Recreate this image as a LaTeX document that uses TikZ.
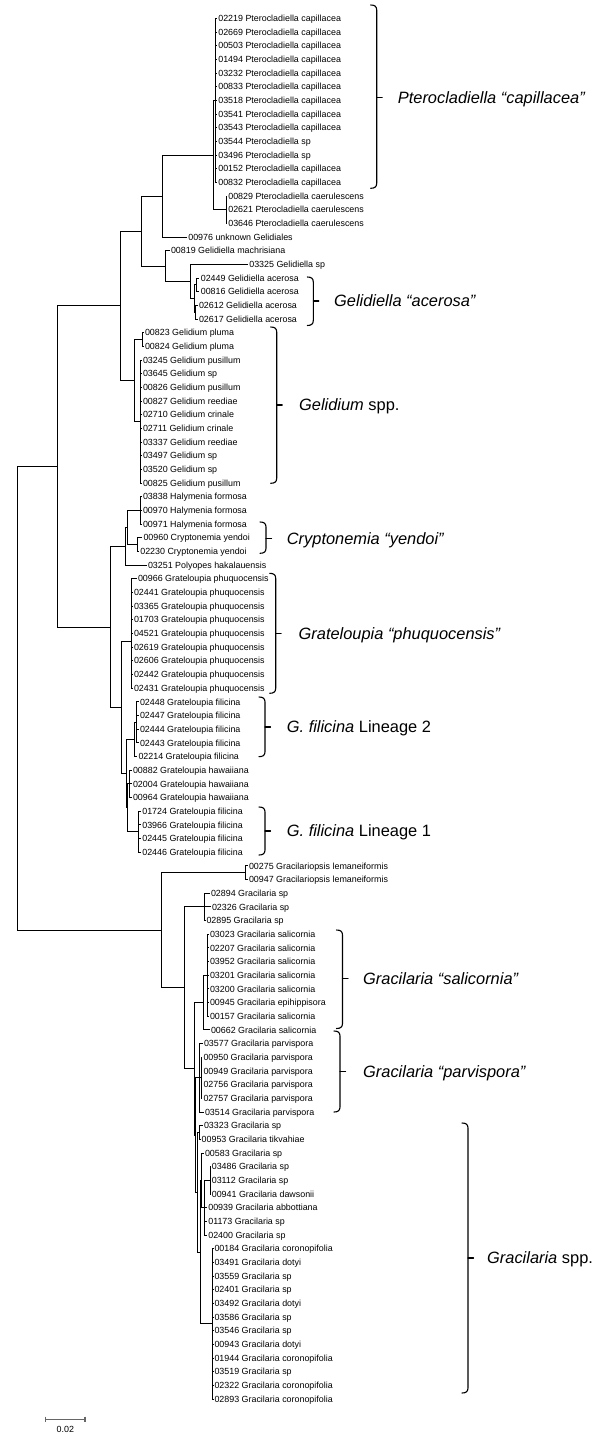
\documentclass[tikz,border=0pt]{standalone}
\usepackage{fontspec}
\setmainfont{Liberation Sans}
\newcommand{\myclbrace}[4]{%
  \draw[bracestyle] ({#1-6},#2) .. controls ({#1-2},#2) and (#1,{#2+1.5}) .. (#1,{#2+5}) -- (#1,{#3-5}) .. controls (#1,{#3-1.5}) and ({#1-2},#3) .. ({#1-6},#3);
  \draw[bracestyle] (#1,#4) -- ({#1+5.5},#4);}
\newcommand{\lf}[4]{\node[leaf] (#1) at (#2,{18.3+(#3-1)*13.67}) {#4};}
\begin{document}
\begin{tikzpicture}[x=1pt,y=-1pt,
  tb/.style={line width=0.8pt, black},
  leaf/.style={anchor=west, inner xsep=1.5pt, inner ysep=0pt, outer sep=0pt, font=\fontsize{8.9}{10}\selectfont, text height=6.4pt, text depth=0pt},
  clade/.style={anchor=west, inner sep=0pt, font=\fontsize{16.4}{18}\selectfont, text height=11.8pt, text depth=0pt},
  bracestyle/.style={line width=1.1pt, black, line cap=round, line join=round},
  scalebar/.style={line width=1.2pt, black!60}]
\useasboundingbox (0,0) rectangle (600,1439);
% ---------------- leaves ----------------
\lf{L1}{216.8}{1}{02219 Pterocladiella capillacea}
\lf{L2}{216.8}{2}{02669 Pterocladiella capillacea}
\lf{L3}{216.8}{3}{00503 Pterocladiella capillacea}
\lf{L4}{216.8}{4}{01494 Pterocladiella capillacea}
\lf{L5}{216.8}{5}{03232 Pterocladiella capillacea}
\lf{L6}{216.8}{6}{00833 Pterocladiella capillacea}
\lf{L7}{216.8}{7}{03518 Pterocladiella capillacea}
\lf{L8}{216.8}{8}{03541 Pterocladiella capillacea}
\lf{L9}{216.8}{9}{03543 Pterocladiella capillacea}
\lf{L10}{216.8}{10}{03544 Pterocladiella sp}
\lf{L11}{216.8}{11}{03496 Pterocladiella sp}
\lf{L12}{216.8}{12}{00152 Pterocladiella capillacea}
\lf{L13}{216.8}{13}{00832 Pterocladiella capillacea}
\lf{L14}{226.8}{14}{00829 Pterocladiella caerulescens}
\lf{L15}{226.8}{15}{02621 Pterocladiella caerulescens}
\lf{L16}{226.8}{16}{03646 Pterocladiella caerulescens}
\lf{L17}{186.8}{17}{00976 unknown Gelidiales}
\lf{L18}{169.5}{18}{00819 Gelidiella machrisiana}
\lf{L19}{247.8}{19}{03325 Gelidiella sp}
\lf{L20}{199.3}{20}{02449 Gelidiella acerosa}
\lf{L21}{199.3}{21}{00816 Gelidiella acerosa}
\lf{L22}{197.5}{22}{02612 Gelidiella acerosa}
\lf{L23}{197.5}{23}{02617 Gelidiella acerosa}
\lf{L24}{143.5}{24}{00823 Gelidium pluma}
\lf{L25}{143.5}{25}{00824 Gelidium pluma}
\lf{L26}{141.5}{26}{03245 Gelidium pusillum}
\lf{L27}{141.5}{27}{03645 Gelidium sp}
\lf{L28}{141.5}{28}{00826 Gelidium pusillum}
\lf{L29}{141.5}{29}{00827 Gelidium reediae}
\lf{L30}{141.5}{30}{02710 Gelidium crinale}
\lf{L31}{141.5}{31}{02711 Gelidium crinale}
\lf{L32}{141.5}{32}{03337 Gelidium reediae}
\lf{L33}{141.5}{33}{03497 Gelidium sp}
\lf{L34}{141.5}{34}{03520 Gelidium sp}
\lf{L35}{141.5}{35}{00825 Gelidium pusillum}
\lf{L36}{141.5}{36}{03838 Halymenia formosa}
\lf{L37}{141.5}{37}{00970 Halymenia formosa}
\lf{L38}{141.5}{38}{00971 Halymenia formosa}
\lf{L39}{142.0}{39}{00960 Cryptonemia yendoi}
\lf{L40}{138.8}{40}{02230 Cryptonemia yendoi}
\lf{L41}{146.5}{41}{03251 Polyopes hakalauensis}
\lf{L42}{136.5}{42}{00966 Grateloupia phuquocensis}
\lf{L43}{132.5}{43}{02441 Grateloupia phuquocensis}
\lf{L44}{132.5}{44}{03365 Grateloupia phuquocensis}
\lf{L45}{132.5}{45}{01703 Grateloupia phuquocensis}
\lf{L46}{132.5}{46}{04521 Grateloupia phuquocensis}
\lf{L47}{132.5}{47}{02619 Grateloupia phuquocensis}
\lf{L48}{132.5}{48}{02606 Grateloupia phuquocensis}
\lf{L49}{132.5}{49}{02442 Grateloupia phuquocensis}
\lf{L50}{132.5}{50}{02431 Grateloupia phuquocensis}
\lf{L51}{138.5}{51}{02448 Grateloupia filicina}
\lf{L52}{138.5}{52}{02447 Grateloupia filicina}
\lf{L53}{138.5}{53}{02444 Grateloupia filicina}
\lf{L54}{138.5}{54}{02443 Grateloupia filicina}
\lf{L55}{137.0}{55}{02214 Grateloupia filicina}
\lf{L56}{131.5}{56}{00882 Grateloupia hawaiiana}
\lf{L57}{131.5}{57}{02004 Grateloupia hawaiiana}
\lf{L58}{131.5}{58}{00964 Grateloupia hawaiiana}
\lf{L59}{140.8}{59}{01724 Grateloupia filicina}
\lf{L60}{140.8}{60}{03966 Grateloupia filicina}
\lf{L61}{140.8}{61}{02445 Grateloupia filicina}
\lf{L62}{140.8}{62}{02446 Grateloupia filicina}
\lf{L63}{247.5}{63}{00275 Gracilariopsis lemaneiformis}
\lf{L64}{247.5}{64}{00947 Gracilariopsis lemaneiformis}
\lf{L65}{209.5}{65}{02894 Gracilaria sp}
\lf{L66}{210.5}{66}{02326 Gracilaria sp}
\lf{L67}{205.0}{67}{02895 Gracilaria sp}
\lf{L68}{208.5}{68}{03023 Gracilaria salicornia}
\lf{L69}{208.5}{69}{02207 Gracilaria salicornia}
\lf{L70}{208.5}{70}{03952 Gracilaria salicornia}
\lf{L71}{208.5}{71}{03201 Gracilaria salicornia}
\lf{L72}{208.5}{72}{03200 Gracilaria salicornia}
\lf{L73}{208.5}{73}{00945 Gracilaria epihippisora}
\lf{L74}{208.5}{74}{00157 Gracilaria salicornia}
\lf{L75}{209.5}{75}{00662 Gracilaria salicornia}
\lf{L76}{202.5}{76}{03577 Gracilaria parvispora}
\lf{L77}{202.0}{77}{00950 Gracilaria parvispora}
\lf{L78}{202.0}{78}{00949 Gracilaria parvispora}
\lf{L79}{202.0}{79}{02756 Gracilaria parvispora}
\lf{L80}{202.0}{80}{02757 Gracilaria parvispora}
\lf{L81}{203.5}{81}{03514 Gracilaria parvispora}
\lf{L82}{202.5}{82}{03323 Gracilaria sp}
\lf{L83}{200.2}{83}{00953 Gracilaria tikvahiae}
\lf{L84}{203.5}{84}{00583 Gracilaria sp}
\lf{L85}{210.3}{85}{03486 Gracilaria sp}
\lf{L86}{210.3}{86}{03112 Gracilaria sp}
\lf{L87}{210.3}{87}{00941 Gracilaria dawsonii}
\lf{L88}{206.8}{88}{00939 Gracilaria abbottiana}
\lf{L89}{206.8}{89}{01173 Gracilaria sp}
\lf{L90}{206.8}{90}{02400 Gracilaria sp}
\lf{L91}{213.0}{91}{00184 Gracilaria coronopifolia}
\lf{L92}{213.0}{92}{03491 Gracilaria dotyi}
\lf{L93}{213.0}{93}{03559 Gracilaria sp}
\lf{L94}{213.0}{94}{02401 Gracilaria sp}
\lf{L95}{213.0}{95}{03492 Gracilaria dotyi}
\lf{L96}{213.0}{96}{03586 Gracilaria sp}
\lf{L97}{213.0}{97}{03546 Gracilaria sp}
\lf{L98}{213.0}{98}{00943 Gracilaria dotyi}
\lf{L99}{213.0}{99}{01944 Gracilaria coronopifolia}
\lf{L100}{213.0}{100}{03519 Gracilaria sp}
\lf{L101}{213.0}{101}{02322 Gracilaria coronopifolia}
\lf{L102}{213.0}{102}{02893 Gracilaria coronopifolia}
% ---------------- internal nodes ----------------
\coordinate (Pc) at (215.5,100.32);
\coordinate (Pca) at (226,209.68);
\coordinate (Pt) at (213.3,155.0);
\coordinate (P) at (162.3,196.01);
\coordinate (Ac1) at (196.7,284.87);
\coordinate (Ac2) at (195.5,312.2);
\coordinate (Ac) at (194,298.53);
\coordinate (Gd2) at (190,281.45);
\coordinate (Gd) at (165.7,266.07);
\coordinate (A) at (141.7,231.04);
\coordinate (Gp) at (142.7,339.55);
\coordinate (Gm) at (140.5,421.57);
\coordinate (G) at (134,380.56);
\coordinate (U) at (120,305.8);
\coordinate (Hf) at (140.7,510.42);
\coordinate (Cy) at (137.7,544.6);
\coordinate (HalCry) at (127.5,527.51);
\coordinate (HC) at (125.3,546.3);
\coordinate (Ph) at (131.7,641.7);
\coordinate (L2a) at (136.7,722.3);
\coordinate (L2n) at (134.3,739.39);
\coordinate (Hw) at (129.3,783.82);
\coordinate (L1n) at (138.3,831.67);
\coordinate (HL) at (127.7,807.74);
\coordinate (F) at (126,773.57);
\coordinate (Gr) at (121,707.63);
\coordinate (H) at (110,626.97);
\coordinate (R1) at (57.7,466.38);
\coordinate (Gp2) at (245,872.68);
\coordinate (Sp3) at (204.5,906.85);
\coordinate (Sa) at (207.3,975.2);
\coordinate (S) at (203.3,1002.54);
\coordinate (Pv2) at (201.3,1077.73);
\coordinate (Pv) at (199.3,1077.73);
\coordinate (A2) at (199.5,1132.4);
\coordinate (E) at (210,1180.25);
\coordinate (D) at (204.3,1207.59);
\coordinate (B) at (201.7,1180.25);
\coordinate (C) at (212.7,1323.79);
\coordinate (R) at (200.3,1252.02);
\coordinate (Gs) at (197.3,1192.21);
\coordinate (Q) at (195.7,1134.97);
\coordinate (SP) at (194,1068.76);
\coordinate (Gl) at (184,987.8);
\coordinate (Gc) at (161,930.24);
\coordinate (Root) at (17.3,698.31);
% ---------------- branches ----------------
\foreach \i in {1,...,13} \draw[tb] (Pc) |- (L\i.west);
\foreach \i in {14,15,16} \draw[tb] (Pca) |- (L\i.west);
\draw[tb] (Pt) |- (Pc); \draw[tb] (Pt) |- (Pca);
\draw[tb] (P) |- (Pt); \draw[tb] (P) |- (L17.west);
\foreach \i in {20,21} \draw[tb] (Ac1) |- (L\i.west);
\foreach \i in {22,23} \draw[tb] (Ac2) |- (L\i.west);
\draw[tb] (Ac) |- (Ac1); \draw[tb] (Ac) |- (Ac2);
\draw[tb] (Gd2) |- (L19.west); \draw[tb] (Gd2) |- (Ac);
\draw[tb] (Gd) |- (L18.west); \draw[tb] (Gd) |- (Gd2);
\draw[tb] (A) |- (P); \draw[tb] (A) |- (Gd);
\foreach \i in {24,25} \draw[tb] (Gp) |- (L\i.west);
\foreach \i in {26,...,35} \draw[tb] (Gm) |- (L\i.west);
\draw[tb] (G) |- (Gp); \draw[tb] (G) |- (Gm);
\draw[tb] (U) |- (A); \draw[tb] (U) |- (G);
\foreach \i in {36,37,38} \draw[tb] (Hf) |- (L\i.west);
\foreach \i in {39,40} \draw[tb] (Cy) |- (L\i.west);
\draw[tb] (HalCry) |- (Hf); \draw[tb] (HalCry) |- (Cy);
\draw[tb] (HC) |- (HalCry); \draw[tb] (HC) |- (L41.west);
\foreach \i in {42,...,50} \draw[tb] (Ph) |- (L\i.west);
\foreach \i in {51,...,54} \draw[tb] (L2a) |- (L\i.west);
\draw[tb] (L2n) |- (L2a); \draw[tb] (L2n) |- (L55.west);
\foreach \i in {56,57,58} \draw[tb] (Hw) |- (L\i.west);
\foreach \i in {59,...,62} \draw[tb] (L1n) |- (L\i.west);
\draw[tb] (HL) |- (Hw); \draw[tb] (HL) |- (L1n);
\draw[tb] (F) |- (L2n); \draw[tb] (F) |- (HL);
\draw[tb] (Gr) |- (Ph); \draw[tb] (Gr) |- (F);
\draw[tb] (H) |- (HC); \draw[tb] (H) |- (Gr);
\draw[tb] (R1) |- (U); \draw[tb] (R1) |- (H);
\foreach \i in {63,64} \draw[tb] (Gp2) |- (L\i.west);
\foreach \i in {65,66,67} \draw[tb] (Sp3) |- (L\i.west);
\foreach \i in {68,...,74} \draw[tb] (Sa) |- (L\i.west);
\draw[tb] (S) |- (Sa); \draw[tb] (S) |- (L75.west);
\foreach \i in {77,...,80} \draw[tb] (Pv2) |- (L\i.west);
\draw[tb] (Pv) |- (L76.west); \draw[tb] (Pv) |- (Pv2); \draw[tb] (Pv) |- (L81.west);
\foreach \i in {82,83} \draw[tb] (A2) |- (L\i.west);
\foreach \i in {85,86,87} \draw[tb] (E) |- (L\i.west);
\draw[tb] (D) |- (E);
\foreach \i in {88,89,90} \draw[tb] (D) |- (L\i.west);
\draw[tb] (B) |- (L84.west); \draw[tb] (B) |- (D);
\foreach \i in {91,...,102} \draw[tb] (C) |- (L\i.west);
\draw[tb] (R) |- (B); \draw[tb] (R) |- (C);
\draw[tb] (Gs) |- (A2); \draw[tb] (Gs) |- (R);
\draw[tb] (Q) |- (Pv); \draw[tb] (Q) |- (Gs);
\draw[tb] (SP) |- (S); \draw[tb] (SP) |- (Q);
\draw[tb] (Gl) |- (Sp3); \draw[tb] (Gl) |- (SP);
\draw[tb] (Gc) |- (Gp2); \draw[tb] (Gc) |- (Gl);
\draw[tb] (Root) |- (R1); \draw[tb] (Root) |- (Gc);
% ---------------- clade braces and labels ----------------
\myclbrace{376.7}{5}{188.3}{97.7}
\node[clade] (c1) at (397.7,97.7) {\itshape Pterocladiella “capillacea”};
\myclbrace{313.3}{277}{325.5}{301}
\node[clade] (c2) at (334,301) {\itshape Gelidiella “acerosa”};
\myclbrace{276.7}{327}{483.3}{405}
\node[clade] (c3) at (299,405) {\textit{Gelidium} spp.};
\myclbrace{266}{522}{553.3}{538.5}
\node[clade] (c4) at (286.7,538.5) {\itshape Cryptonemia “yendoi”};
\myclbrace{275.7}{573.3}{693.3}{633.3}
\node[clade] (c5) at (298.5,633.3) {\itshape Grateloupia “phuquocensis”};
\myclbrace{265}{697}{756.7}{727}
\node[clade] (c6) at (286.7,727) {\textit{G. filicina} Lineage 2};
\myclbrace{265}{807}{855}{831}
\node[clade] (c7) at (286.7,831) {\textit{G. filicina} Lineage 1};
\myclbrace{342.5}{930}{1028.5}{978.3}
\node[clade] (c8) at (363,978.3) {\itshape Gracilaria “salicornia”};
\myclbrace{340}{1031}{1112}{1071.7}
\node[clade] (c9) at (363,1071.7) {\itshape Gracilaria “parvispora”};
\myclbrace{468}{1123}{1393}{1258}
\node[clade] (c10) at (487,1258) {\textit{Gracilaria} spp.};
% ---------------- scale bar ----------------
\coordinate (sbA) at (45.7,1419.3);
\coordinate (sbB) at (85,1419.3);
\draw[scalebar] (sbA) -- (sbB);
\draw[scalebar] ([yshift=2.6pt]sbA) -- ([yshift=-2.6pt]sbA);
\draw[scalebar] ([yshift=2.6pt]sbB) -- ([yshift=-2.6pt]sbB);
\node[leaf, anchor=center] (sbl) at (65.3,1429) {0.02};
\end{tikzpicture}
\end{document}
